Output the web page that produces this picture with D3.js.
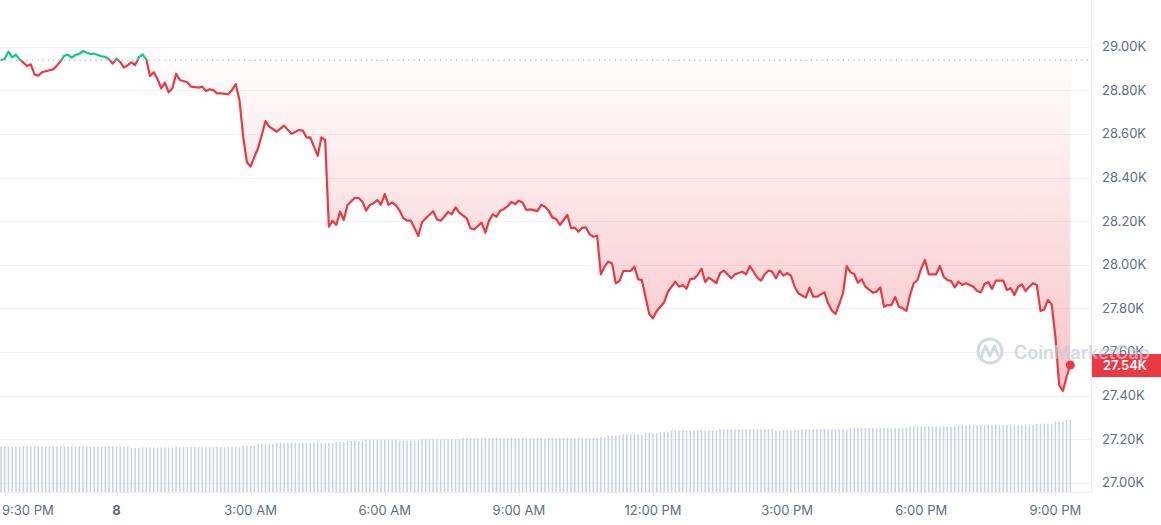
<!DOCTYPE html>
<html>
<head>
<meta charset="utf-8">
<script src="https://cdn.jsdelivr.net/npm/d3@7"></script>
<style>
  html, body { margin: 0; padding: 0; background: #fff; }
  svg { display: block; font-family: Inter, "Noto Sans", sans-serif; }
</style>
</head>
<body>
<script>
// BTC price in USD, 5 min steps, starts on the evening of May 7
var priceTimes = [
  "21:25","21:30","21:35","21:40","21:45","21:50","21:55",
  "22:00","22:05","22:10","22:15","22:20","22:30","22:35","22:40","22:45","22:50","22:55",
  "23:00","23:05","23:10","23:15","23:20","23:25","23:30","23:40","23:45","23:50","23:55",
  "00:00","00:05","00:10","00:15","00:20","00:25","00:30","00:35","00:40","00:45","00:50","00:55",
  "01:00","01:05","01:10","01:15","01:20","01:25","01:35","01:40","01:50","01:55",
  "02:00","02:05","02:10","02:15","02:20","02:30","02:35","02:40","02:45","02:50","02:55",
  "03:00","03:05","03:10","03:15","03:20","03:25","03:35","03:45","03:55",
  "04:05","04:10","04:15","04:20","04:30","04:35","04:40","04:45","04:50","04:55",
  "05:00","05:05","05:10","05:20","05:25","05:30","05:35","05:40","05:45","05:50","05:55",
  "06:00","06:05","06:10","06:15","06:20","06:25","06:30","06:35","06:40","06:45","06:50","06:55",
  "07:05","07:10","07:15","07:20","07:25","07:30","07:35","07:40","07:50","07:55",
  "08:00","08:10","08:15","08:20","08:25","08:30","08:35","08:40","08:45","08:50","08:55",
  "09:00","09:05","09:10","09:15","09:25","09:30","09:35","09:40","09:45","09:50","09:55",
  "10:00","10:05","10:10","10:15","10:20","10:25","10:30","10:35","10:40","10:45","10:50","10:55",
  "11:00","11:05","11:10","11:15","11:20","11:30","11:35","11:40","11:45","11:55",
  "12:00","12:05","12:15","12:20","12:30","12:35","12:40","12:45","12:50","12:55",
  "13:00","13:05","13:10","13:15","13:25","13:30","13:35","13:45","13:50",
  "14:00","14:05","14:10","14:20","14:25","14:30","14:35","14:40","14:45","14:50","14:55",
  "15:00","15:05","15:10","15:15","15:25","15:30","15:35","15:40","15:50","15:55",
  "16:00","16:05","16:10","16:15","16:20","16:25","16:30","16:35","16:40","16:45","16:55",
  "17:00","17:05","17:10","17:15","17:20","17:25","17:30","17:35","17:40","17:45","17:50","17:55",
  "18:00","18:05","18:10","18:20","18:25","18:30","18:35","18:40","18:45","18:50","18:55",
  "19:00","19:10","19:15","19:20","19:25","19:30","19:35","19:40","19:50","19:55",
  "20:00","20:05","20:10","20:15","20:20","20:25","20:30","20:35","20:40","20:45","20:50","20:55",
  "21:00","21:05","21:10","21:15","21:20"
];
var priceValues = [
  28938,28945,28977,28951,28963,28942,28927,
  28911,28919,28873,28867,28883,28892,28896,28913,28934,28959,28963,
  28950,28962,28967,28980,28972,28967,28968,28956,28954,28942,28922,
  28945,28930,28904,28915,28928,28916,28951,28965,28942,28866,28883,28852,
  28809,28835,28791,28809,28876,28847,28837,28817,28812,28817,
  28797,28805,28801,28786,28786,28782,28801,28828,28756,28587,28470,
  28450,28495,28534,28595,28659,28633,28610,28638,28600,
  28618,28615,28583,28584,28499,28584,28572,28174,28202,28182,
  28243,28205,28274,28307,28306,28289,28248,28274,28282,28297,28275,
  28324,28274,28286,28272,28248,28213,28202,28202,28167,28132,28195,28213,
  28245,28208,28202,28220,28242,28231,28263,28239,28213,28167,
  28162,28193,28147,28202,28231,28220,28248,28256,28269,28288,28278,
  28294,28284,28251,28254,28246,28275,28266,28248,28216,28210,28182,
  28205,28228,28167,28170,28151,28170,28170,28139,28128,28133,27956,27991,
  28014,28006,27915,27925,27971,27972,27991,27933,27930,27774,
  27754,27788,27828,27876,27922,27899,27907,27890,27934,27936,
  27953,27982,27921,27941,27915,27961,27973,27938,27956,
  27968,27956,27994,27940,27927,27956,27973,27968,27938,27973,27950,
  27961,27950,27899,27869,27849,27895,27853,27853,27873,27823,
  27789,27774,27820,27869,27994,27965,27956,27917,27933,27899,27872,
  27876,27896,27807,27815,27815,27851,27807,27800,27788,27861,27915,27930,
  27983,28022,27956,27956,27994,27945,27930,27925,27896,27922,27907,
  27915,27899,27879,27873,27912,27919,27889,27927,27927,27884,
  27892,27861,27899,27910,27879,27899,27915,27907,27788,27795,27838,27818,
  27670,27448,27421,27486,27540
];
var openPrice = 28938;

// 24h volume (billions USD), one bar every 5 min from 21:25
var volumeValues = [
  11.5,11.5,11.5,11.5,11.5,11.5,11.5,11.5,11.5,11.5,11.5,11.5,
  11.5,11.5,11.5,11.5,11.5,11.5,11.5,11.5,11.5,11.5,11.5,11.5,
  11.5,11.5,11.5,11.5,11.5,11.5,11.5,11.5,11.5,11.5,11.5,11.1,
  11.1,11.1,11.25,11.25,11.25,11.25,11.25,11.25,11.25,11.25,11.25,11.35,
  11.35,11.35,11.35,11.35,11.35,11.35,11.35,11.35,11.35,11.35,11.35,11.35,
  11.35,11.35,11.35,11.35,11.35,11.7,11.7,11.7,11.7,12.1,12.1,12.1,
  12.1,12.1,12.35,12.35,12.35,12.35,12.35,12.35,12.35,12.35,12.35,12.35,
  12.35,12.35,12.35,12.35,12.35,12.35,12.6,12.6,12.6,12.9,12.9,12.9,
  12.9,12.9,13.2,13.2,13.2,13.2,13.2,13.2,13.2,13.2,13.2,13.0,
  13.0,13.0,13.0,13.0,13.0,13.35,13.35,13.35,13.35,13.35,13.35,13.35,
  13.35,13.35,13.35,13.35,13.6,13.6,13.6,13.6,13.6,13.6,13.6,13.6,
  13.6,13.6,13.6,13.6,13.6,13.6,13.6,13.6,13.6,13.6,13.6,13.6,
  13.6,13.6,13.6,13.6,13.6,13.6,13.6,13.6,13.6,13.6,13.6,13.6,
  13.6,13.6,13.6,13.6,13.6,13.85,13.85,14.25,14.25,14.25,14.25,14.5,
  14.5,14.5,14.5,14.5,14.5,14.85,14.85,14.85,14.85,15.1,15.1,15.1,
  15.5,15.5,15.5,15.5,15.5,15.5,15.5,15.5,15.5,15.5,15.5,15.5,
  15.5,15.85,15.85,15.85,15.85,15.85,15.85,15.85,15.85,15.85,15.85,15.85,
  15.85,15.85,15.85,15.85,15.5,15.5,15.5,15.5,15.5,15.5,15.5,15.85,
  15.85,15.85,15.85,15.85,15.85,15.85,15.85,15.85,15.85,15.85,15.85,15.85,
  16.1,16.1,16.1,16.1,16.1,16.1,16.1,16.1,16.1,16.1,16.1,16.1,
  16.1,16.1,16.1,16.1,16.5,16.5,16.5,16.5,16.5,16.5,16.5,16.5,
  16.5,16.5,16.5,16.5,16.5,16.9,16.9,16.9,16.9,16.9,16.9,16.9,
  16.9,16.9,16.9,16.9,16.9,16.9,16.9,16.9,16.9,16.9,16.9,16.9,
  16.9,16.9,17.2,17.2,17.2,17.2,17.2,17.75,17.75,17.75,18.2,18.2
];

var yTickValues = [27000, 27200, 27400, 27600, 27800, 28000, 28200, 28400, 28600, 28800, 29000];
var xTickTimes = ["21:30", "00:00", "03:00", "06:00", "09:00", "12:00", "15:00", "18:00", "21:00"];
var xTickLabels = ["9:30 PM", "8", "3:00 AM", "6:00 AM", "9:00 AM", "12:00 PM", "3:00 PM", "6:00 PM", "9:00 PM"];

// general settings
var W = 1161, H = 525,
    plotRight = 1091.5,
    plotBottom = 492.5,
    red = "#ea3943",
    green = "#16c784",
    labelColor = "#616e85",
    gridColor = "#eff2f5";

// time strings -> dates (day changes when the clock wraps)
function toDates(times, startDay) {
  var day = startDay, prev = -1;
  return times.map(function(t) {
    var hm = t.split(":"), mins = +hm[0] * 60 + +hm[1];
    if (mins < prev) day++;
    prev = mins;
    return new Date(2023, 4, day, +hm[0], +hm[1]);
  });
}

var priceDates = toDates(priceTimes, 7);
var datos = priceDates.map(function(d, i) { return { date: d, price: priceValues[i] }; });
var volDates = d3.timeMinute.every(5).range(new Date(2023, 4, 7, 21, 25), new Date(2023, 4, 8, 21, 25));
var volDatos = volDates.map(function(d, i) { return { date: d, vol: volumeValues[i] }; });
var tickDates = toDates(xTickTimes, 7);

var svg = d3.select("body").append("svg")
  .attr("width", W)
  .attr("height", H);

var x = d3.scaleTime()
  .domain([new Date(2023, 4, 8, 0, 0), new Date(2023, 4, 8, 21, 0)])
  .range([116.5, 1055.4]);

var y = d3.scaleLinear()
  .domain([27000, 29000])
  .range([482.7, 46.7]);

var yVol = d3.scaleLinear()
  .domain([0, 25])
  .range([plotBottom, plotBottom - 100]);

var yOpen = y(openPrice);

// gradients and clips
var defs = svg.append("defs");
var gRed = defs.append("linearGradient").attr("id", "redFill")
  .attr("gradientUnits", "userSpaceOnUse")
  .attr("x1", 0).attr("x2", 0)
  .attr("y1", yOpen).attr("y2", y(d3.min(priceValues)));
gRed.append("stop").attr("offset", 0).attr("stop-color", red).attr("stop-opacity", 0.01);
gRed.append("stop").attr("offset", 1).attr("stop-color", red).attr("stop-opacity", 0.3);

var gGreen = defs.append("linearGradient").attr("id", "greenFill")
  .attr("gradientUnits", "userSpaceOnUse")
  .attr("x1", 0).attr("x2", 0)
  .attr("y1", y(d3.max(priceValues))).attr("y2", yOpen);
gGreen.append("stop").attr("offset", 0).attr("stop-color", green).attr("stop-opacity", 0.12);
gGreen.append("stop").attr("offset", 1).attr("stop-color", green).attr("stop-opacity", 0.01);

defs.append("clipPath").attr("id", "above")
  .append("rect").attr("x", 0).attr("y", 0).attr("width", W).attr("height", yOpen);
defs.append("clipPath").attr("id", "below")
  .append("rect").attr("x", 0).attr("y", yOpen).attr("width", W).attr("height", H - yOpen);

// horizontal grid
svg.append("g")
  .selectAll("line")
  .data(yTickValues)
  .enter()
  .append("line")
  .attr("x1", 0)
  .attr("x2", plotRight)
  .attr("y1", function(d) { return Math.round(y(d)) + 0.5; })
  .attr("y2", function(d) { return Math.round(y(d)) + 0.5; })
  .attr("stroke", gridColor);

// right and bottom border
svg.append("line")
  .attr("x1", plotRight).attr("x2", plotRight)
  .attr("y1", 0).attr("y2", plotBottom)
  .attr("stroke", gridColor);
svg.append("line")
  .attr("x1", 0).attr("x2", plotRight)
  .attr("y1", plotBottom).attr("y2", plotBottom)
  .attr("stroke", gridColor);

// volume bars
svg.append("g")
  .selectAll("rect")
  .data(volDatos)
  .enter()
  .append("rect")
  .attr("x", function(d) { return x(d.date) - 0.75; })
  .attr("width", 1.5)
  .attr("y", function(d) { return yVol(d.vol); })
  .attr("height", function(d) { return plotBottom - yVol(d.vol); })
  .attr("fill", "#c9d2e2");

// areas
var area = d3.area()
  .x(function(d) { return x(d.date); })
  .y0(yOpen)
  .y1(function(d) { return y(d.price); });

svg.append("path").datum(datos)
  .attr("d", area)
  .attr("fill", "url(#greenFill)")
  .attr("clip-path", "url(#above)");
svg.append("path").datum(datos)
  .attr("d", area)
  .attr("fill", "url(#redFill)")
  .attr("clip-path", "url(#below)");

// open price baseline
svg.append("line")
  .attr("x1", 0).attr("x2", plotRight)
  .attr("y1", yOpen).attr("y2", yOpen)
  .attr("stroke", "#98a1b5")
  .attr("stroke-width", 1)
  .attr("stroke-dasharray", "1.3,4");

// price line
var line = d3.line()
  .x(function(d) { return x(d.date); })
  .y(function(d) { return y(d.price); });

svg.append("path").datum(datos)
  .attr("d", line)
  .attr("fill", "none")
  .attr("stroke", green)
  .attr("stroke-width", 2.2)
  .attr("stroke-linejoin", "round")
  .attr("clip-path", "url(#above)");
svg.append("path").datum(datos)
  .attr("d", line)
  .attr("fill", "none")
  .attr("stroke", red)
  .attr("stroke-width", 2.2)
  .attr("stroke-linejoin", "round")
  .attr("clip-path", "url(#below)");

var last = datos[datos.length - 1];
svg.append("circle")
  .attr("cx", x(last.date))
  .attr("cy", y(last.price))
  .attr("r", 4.5)
  .attr("fill", red);

// y axis labels
svg.append("g")
  .selectAll("text")
  .data(yTickValues)
  .enter()
  .append("text")
  .attr("x", 1102)
  .attr("y", function(d) { return y(d) + 4.5; })
  .attr("font-size", 13)
  .attr("fill", labelColor)
  .text(function(d) { return (d / 1000).toFixed(2) + "K"; });

// x axis ticks and labels
var xg = svg.append("g");
xg.selectAll("line")
  .data(tickDates)
  .enter()
  .append("line")
  .attr("x1", function(d) { return Math.round(x(d)) + 0.5; })
  .attr("x2", function(d) { return Math.round(x(d)) + 0.5; })
  .attr("y1", plotBottom)
  .attr("y2", plotBottom + 4)
  .attr("stroke", "#e3e7ee");

xg.selectAll("text")
  .data(tickDates)
  .enter()
  .append("text")
  .attr("x", function(d) { return x(d); })
  .attr("y", 514.5)
  .attr("text-anchor", "middle")
  .attr("font-size", 13)
  .attr("font-weight", function(d, i) { return xTickLabels[i] === "8" ? 700 : 400; })
  .attr("fill", function(d, i) { return xTickLabels[i] === "8" ? "#58667e" : labelColor; })
  .text(function(d, i) { return xTickLabels[i]; })
  .each(function() {
    // keep the first label inside the picture
    var b = this.getBBox();
    if (b.x < 0) d3.select(this).attr("text-anchor", "start").attr("x", 2);
  });

// current price tag
svg.append("rect")
  .attr("x", plotRight + 0.5)
  .attr("y", y(last.price) - 11)
  .attr("width", W - plotRight)
  .attr("height", 23)
  .attr("fill", red);
svg.append("text")
  .attr("x", 1103)
  .attr("y", y(last.price) + 5)
  .attr("font-size", 13)
  .attr("font-weight", 600)
  .attr("fill", "#fff")
  .text((last.price / 1000).toFixed(2) + "K");

// watermark on top of everything
var wm = svg.append("g").attr("opacity", 0.7);
wm.append("circle")
  .attr("cx", 990).attr("cy", 351).attr("r", 12)
  .attr("fill", "none").attr("stroke", "#c3cad9").attr("stroke-width", 3);
wm.append("path")
  .attr("d", "M981,357 L985.5,346 L990,356 L994.5,346 L998,355")
  .attr("fill", "none").attr("stroke", "#c3cad9").attr("stroke-width", 3)
  .attr("stroke-linejoin", "round").attr("stroke-linecap", "round");
wm.append("text")
  .attr("x", 1014).attr("y", 358.5)
  .attr("font-size", 18).attr("font-weight", 600)
  .attr("fill", "#c3cad9")
  .text("CoinMarketCap");
</script>
</body>
</html>
